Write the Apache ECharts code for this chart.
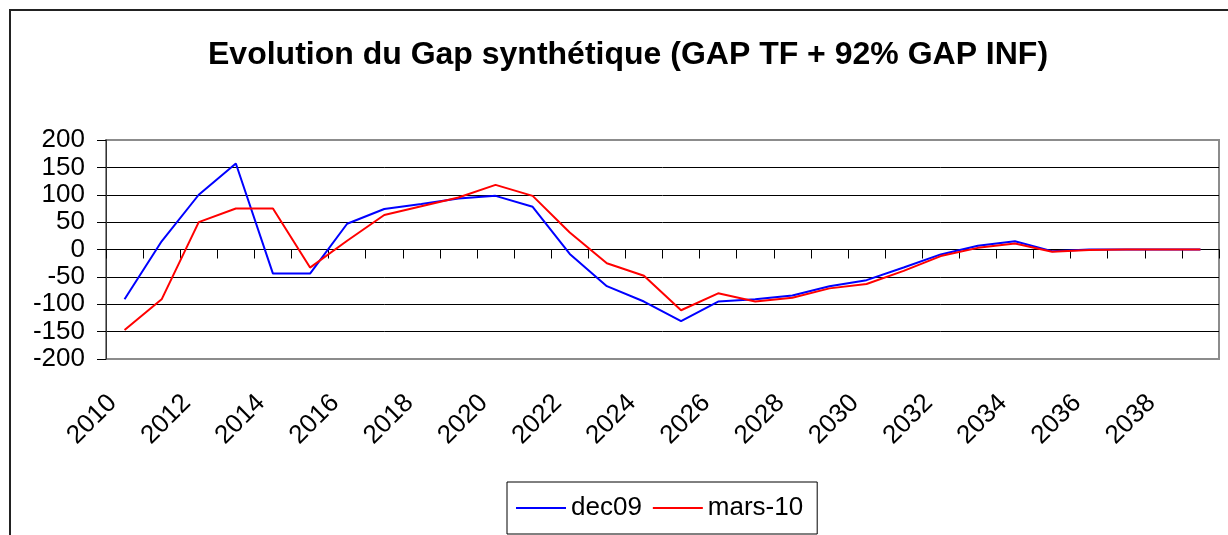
<!DOCTYPE html>
<html>
<head>
<meta charset="utf-8">
<script src="https://cdn.jsdelivr.net/npm/echarts@6/dist/echarts.min.js"></script>
<style>html,body{margin:0;padding:0;background:#fff;}#c{width:1228px;height:535px;}</style>
</head>
<body>
<div id="c"></div>
<script>
const years = ['2010','2011','2012','2013','2014','2015','2016','2017','2018','2019','2020','2021','2022','2023','2024','2025','2026','2027','2028','2029','2030','2031','2032','2033','2034','2035','2036','2037','2038','2039'];
const dec09 = [-91, 15, 100, 157, -44, -44, 47, 74, 83, 93, 98, 78, -8, -67, -95, -131, -95, -91, -84, -67, -56, -33, -9, 7, 15, -3, 0, 0, 0, 0];
const mars10 = [-147, -91, 50, 75, 75, -33, 16, 63, 79, 95, 118, 98, 31, -25, -48, -111, -80, -95, -88, -71, -63, -39, -12, 3, 11, -4, -1, 0, 0, 0];
const titleText = 'Evolution du Gap synthétique (GAP TF + 92% GAP INF)';
const seriesNames = ['dec09', 'mars-10'];

const FONT = '"Liberation Sans", Arial, sans-serif';
const chart = echarts.init(document.getElementById('c'));
chart.setOption({
  animation: false,
  backgroundColor: '#fff',
  textStyle: { fontFamily: FONT },
  graphic: [{
    type: 'rect', silent: true, z: -10,
    shape: { x: 10, y: 10, width: 1300, height: 600 },
    style: { fill: 'none', stroke: '#222', lineWidth: 2 }
  }],
  title: {
    text: titleText, left: 203, top: 34,
    textStyle: { fontFamily: FONT, fontSize: 32, fontWeight: 'bold', color: '#000' }
  },
  legend: {
    left: 507, top: 482,
    padding: [13, 14, 13, 9],
    borderColor: '#000', borderWidth: 1,
    icon: 'rect', itemWidth: 50, itemHeight: 2, itemGap: 11,
    textStyle: { fontFamily: FONT, fontSize: 26, color: '#000' },
    data: seriesNames
  },
  grid: {
    left: 106, top: 140, width: 1113, height: 219,
    show: true, borderColor: '#8c8c8c', borderWidth: 2, backgroundColor: '#fff'
  },
  xAxis: [{
    type: 'category', data: years, boundaryGap: true,
    axisLine: { onZero: true, lineStyle: { color: '#000', width: 1 } },
    axisTick: { show: true, interval: 0, length: 9, lineStyle: { color: '#000' } },
    axisLabel: { show: false },
    splitLine: { show: false }
  }, {
    type: 'category', data: years, boundaryGap: true, position: 'bottom',
    axisLine: { show: false, onZero: false },
    axisTick: { show: false },
    axisLabel: {
      show: true, interval: 1, rotate: 45, margin: 28,
      padding: [0, 17, 0, 0],
      fontFamily: FONT, fontSize: 26, color: '#000'
    },
    splitLine: { show: false }
  }],
  yAxis: {
    type: 'value', min: -200, max: 200, interval: 50,
    axisLine: { show: true, lineStyle: { color: '#333', width: 1 } },
    axisTick: { show: true, length: 9, lineStyle: { color: '#000' } },
    axisLabel: { margin: 21, fontFamily: FONT, fontSize: 26, color: '#000' },
    splitLine: { show: true, showMinLine: false, showMaxLine: false, lineStyle: { color: '#000', width: 1 } }
  },
  series: [{
    name: seriesNames[0], type: 'line', data: dec09, xAxisIndex: 0,
    symbol: 'none', color: '#0000ff', lineStyle: { color: '#0000ff', width: 2 }
  }, {
    name: seriesNames[1], type: 'line', data: mars10, xAxisIndex: 0,
    symbol: 'none', color: '#ff0000', lineStyle: { color: '#ff0000', width: 2 }
  }]
});
</script>
</body>
</html>
